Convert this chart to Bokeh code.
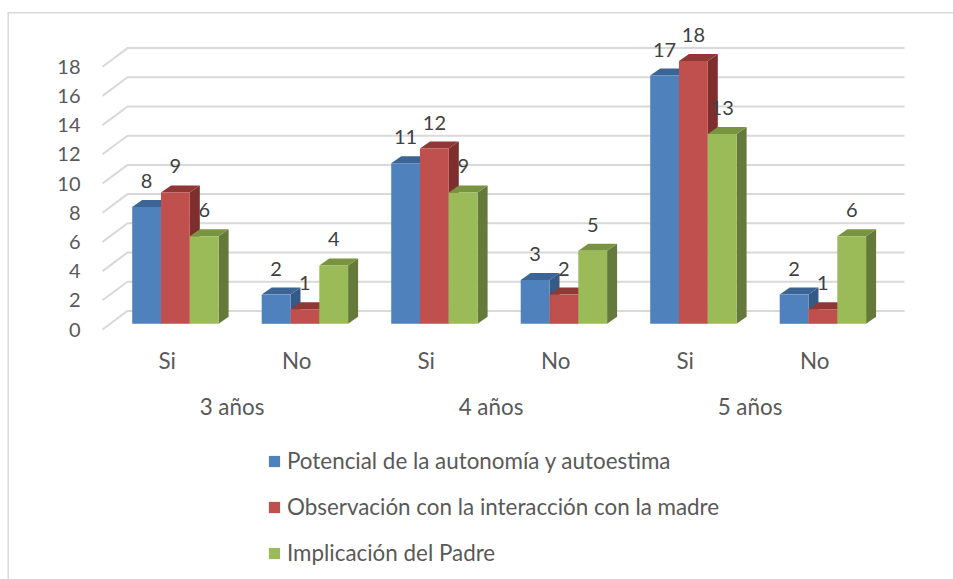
from bokeh.plotting import figure
from bokeh.models import Range1d, LinearAxis, FixedTicker, Legend, LegendItem, BoxAnnotation
from bokeh.core.properties import value
from bokeh.embed import file_html
from bokeh.resources import INLINE

# ---- data ----
sub_labels = ["Si", "No", "Si", "No", "Si", "No"]
group_labels = ["3 años", "4 años", "5 años"]
series_names = ["Potencial de la autonomía y autoestima",
                "Observación con la interacción con la madre",
                "Implicación del Padre"]
autonomia = [8, 2, 11, 3, 17, 2]
interaccion = [9, 1, 12, 2, 18, 1]
padre = [6, 4, 9, 5, 13, 6]
y_ticks = [0, 2, 4, 6, 8, 10, 12, 14, 16, 18]

# ---- style / geometry (page pixels) ----
FONT = "Lato"
FS_NUM = "20px"
FS_TXT = "22.4px"
W, H = 953, 579
ORIGIN_X = 102    # page x of the front-left corner of the floor
Y0 = 329          # page y of value 0 on the front edge
PX_X = 129.5      # px per category
PX_Y = 14.6       # px per unit
FLOOR = (Y0 - 323.3) / PX_Y
GRID_DX, GRID_DY = 25 / PX_X, 18.6 / PX_Y
BAR_DX, BAR_DY = 10 / PX_X, 7 / PX_Y
BAR_W = 28.8 / PX_X
BAR_START = 29.7 / PX_X
LABEL_OFF = 26 / PX_Y
AXIS1_Y = -(332 - Y0) / PX_Y
AXIS2_Y = -(378 - Y0) / PX_Y

faces = [("#4f81bd", "#3c6595", "#365a86"),
         ("#c0504d", "#8f3836", "#7e2f2d"),
         ("#9bbb59", "#789440", "#65793a")]

p = figure(width=W, height=H, output_backend="svg", toolbar_location=None,
           x_range=Range1d(-ORIGIN_X / PX_X, (W - ORIGIN_X) / PX_X),
           y_range=Range1d(-(H - Y0) / PX_Y, Y0 / PX_Y),
           min_border=0)
p.outline_line_color = None
p.grid.visible = False
p.background_fill_color = "white"

# chart-area border
for l, r_, t, b in ((7, 8.5, 11.5, H), (7, W, 11.5, 13)):
    p.add_layout(BoxAnnotation(left=l, right=r_, top=t, bottom=b, left_units="canvas",
                               right_units="canvas", top_units="canvas", bottom_units="canvas",
                               fill_color="#d9d9d9", fill_alpha=1, line_color=None, level="underlay"))

# y axis
ya = p.yaxis[0]
ya.fixed_location = 0
ya.ticker = FixedTicker(ticks=y_ticks)
ya.axis_line_color = None
ya.major_tick_line_color = None
ya.minor_tick_line_color = None
ya.major_label_standoff = 16
ya.major_label_text_font = FONT
ya.major_label_text_font_size = FS_NUM
ya.major_label_text_color = "#595959"

# x axes
xa = p.xaxis[0]
xa.fixed_location = AXIS1_Y
positions = [i + 0.5 for i in range(len(sub_labels))]
xa.ticker = FixedTicker(ticks=positions)
xa.major_label_overrides = dict(zip(positions, sub_labels))
group_pos = [2 * i + 1 for i in range(len(group_labels))]
xb = LinearAxis(ticker=FixedTicker(ticks=group_pos), fixed_location=AXIS2_Y,
                major_label_overrides=dict(zip(group_pos, group_labels)))
p.add_layout(xb, "below")
for a in (xa, xb):
    a.axis_line_color = None
    a.major_tick_line_color = None
    a.minor_tick_line_color = None
    a.major_label_standoff = 8
    a.major_label_orientation = "horizontal"
    a.major_label_text_font = FONT
    a.major_label_text_font_size = FS_TXT
    a.major_label_text_color = "#595959"

# gridlines with the floor/wall fold
n = len(sub_labels)
p.multi_line(xs=[[0, GRID_DX, n + GRID_DX] for _ in y_ticks],
             ys=[[v, v + GRID_DY, v + GRID_DY] for v in y_ticks],
             line_color="#d9d9d9", line_width=2)

# bars
legend_items = []
label_x, label_y, label_t = [], [], []
for s, vals in enumerate([autonomia, interaccion, padre]):
    front, top, side = faces[s]
    lefts = [i + BAR_START + s * BAR_W for i in range(n)]
    tops = [v + FLOOR for v in vals]
    p.patches(xs=[[l + BAR_W, l + BAR_W + BAR_DX, l + BAR_W + BAR_DX, l + BAR_W] for l in lefts],
              ys=[[FLOOR, FLOOR + BAR_DY, t + BAR_DY, t] for t in tops],
              fill_color=side, line_color=None)
    p.patches(xs=[[l, l + BAR_DX, l + BAR_W + BAR_DX, l + BAR_W] for l in lefts],
              ys=[[t, t + BAR_DY, t + BAR_DY, t] for t in tops],
              fill_color=top, line_color=None)
    r = p.vbar(x=[l + BAR_W / 2 for l in lefts], width=BAR_W, bottom=FLOOR, top=tops,
               fill_color=front, line_color=None)
    legend_items.append(LegendItem(label=series_names[s], renderers=[r]))
    label_x += [l + BAR_W / 2 for l in lefts]
    label_y += [t + LABEL_OFF for t in tops]
    label_t += [str(v) for v in vals]

p.text(x=label_x, y=label_y, text=label_t, text_font=value(FONT), text_font_size=FS_NUM,
       text_color="#404040", text_align="center", text_baseline="middle")

legend = Legend(items=legend_items, location=(267, H - 566), orientation="vertical",
                glyph_width=14, glyph_height=14, label_standoff=6, spacing=19,
                label_height=24, padding=0, margin=0, border_line_color=None,
                background_fill_alpha=0, label_text_font=FONT,
                label_text_font_size=FS_TXT, label_text_color="#595959")
p.add_layout(legend)

open("out.html", "w").write(file_html(p, INLINE))
